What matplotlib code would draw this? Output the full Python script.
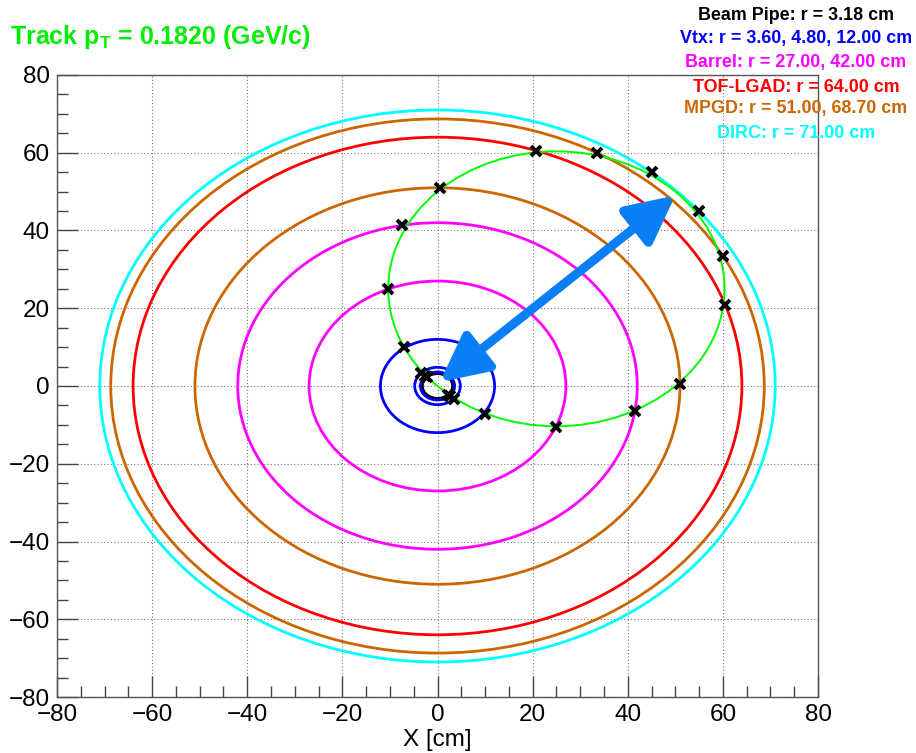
import numpy as np
import matplotlib.pyplot as plt
from matplotlib.patches import Circle

plt.rcParams['font.family'] = ['Liberation Sans', 'DejaVu Sans']
plt.rcParams['mathtext.fontset'] = 'custom'
plt.rcParams['mathtext.rm'] = 'Liberation Sans:bold'
plt.rcParams['mathtext.default'] = 'rm'

# detector layers (radius in cm, colour)
layer_r = [3.18, 3.60, 4.80, 12.00, 27.00, 42.00, 64.00, 51.00, 68.70, 71.00]
layer_c = ['black', '#0000ff', '#0000ff', '#0000ff', '#ff00ff', '#ff00ff',
           '#ff0000', '#cc6600', '#cc6600', '#00ffff']

# track helix projected on xy
track_center = (25.0, 25.0)
track_radius = 35.36

# hits where track crosses the layers
hit_x = [-2.25, -2.55, -3.40, 2.25, 2.55, 3.40, -7.1, 10.0, -10.5, 25.0,
         -7.4, 41.5, 0.5, 51.0, 20.8, 60.5, 33.5, 60.0, 45.0, 55.0]
hit_y = [2.25, 2.55, 3.40, -2.25, -2.55, -3.40, 10.0, -7.1, 25.0, -10.5,
         41.5, -6.5, 51.0, 0.5, 60.5, 20.8, 60.0, 33.5, 55.0, 45.0]

# momentum arrow
arrow_start = (0.5, 1.0)
arrow_end = (50.0, 49.0)

legend_lines = ['Beam Pipe: r = 3.18 cm',
                'Vtx: r = 3.60, 4.80, 12.00 cm',
                'Barrel: r = 27.00, 42.00 cm',
                'TOF-LGAD: r = 64.00 cm',
                'MPGD: r = 51.00, 68.70 cm',
                'DIRC: r = 71.00 cm']
legend_colors = ['black', '#0000ff', '#ff00ff', '#ff0000', '#cc6600', '#00ffff']

fig = plt.figure(figsize=(9.16, 7.53), dpi=100)
ax = fig.add_axes([57/916, 1-697/753, (818-57)/916, (697-75)/753])

for r, c in zip(layer_r, layer_c):
    ax.add_patch(Circle((0, 0), r, fill=False, edgecolor=c, lw=2.0, zorder=3))

ax.add_patch(Circle(track_center, track_radius, fill=False, edgecolor='#00ff00',
                    lw=1.4, zorder=4))

ax.plot(hit_x, hit_y, 'x', color='black', ms=7, mew=2.8, zorder=5)

ax.annotate('', xy=arrow_end, xytext=arrow_start,
            arrowprops=dict(arrowstyle='<|-|>,head_length=1.2,head_width=0.6',
                            color='#0a7ff5', lw=6.5, mutation_scale=24,
                            shrinkA=0, shrinkB=0), zorder=6)

ax.set_xlim(-80, 80)
ax.set_ylim(-80, 80)
ax.set_xticks(np.arange(-80, 81, 20))
ax.set_yticks(np.arange(-80, 81, 20))
ax.set_xticks(np.arange(-80, 81, 5), minor=True)
ax.set_yticks(np.arange(-80, 81, 5), minor=True)
ax.tick_params(which='both', direction='in', color='#444444', labelsize=17.5,
               top=False, right=False)
ax.tick_params(which='major', length=15, width=1.0, pad=5)
ax.tick_params(which='minor', length=8, width=1.0)
ax.grid(True, which='major', linestyle=(0, (1, 2)), color='#777777', lw=0.8)
ax.set_axisbelow(True)
for s in ax.spines.values():
    s.set_color('#555555')
    s.set_linewidth(1.0)

ax.set_xlabel('X [cm]', fontsize=17.5, labelpad=2)

fig.text(10/916, 1-37/753, r'Track p$_{T}$ = 0.1820 (GeV/c)', color='#00ee00',
         fontsize=18, fontweight='bold', ha='left', va='center')

ys = [15, 38, 62, 87, 109, 133]
for t, c, y in zip(legend_lines, legend_colors, ys):
    fig.text(796/916, 1-y/753, t, color=c, fontsize=12.9, fontweight='bold',
             ha='center', va='center')

fig.savefig('out.png', dpi=100)
